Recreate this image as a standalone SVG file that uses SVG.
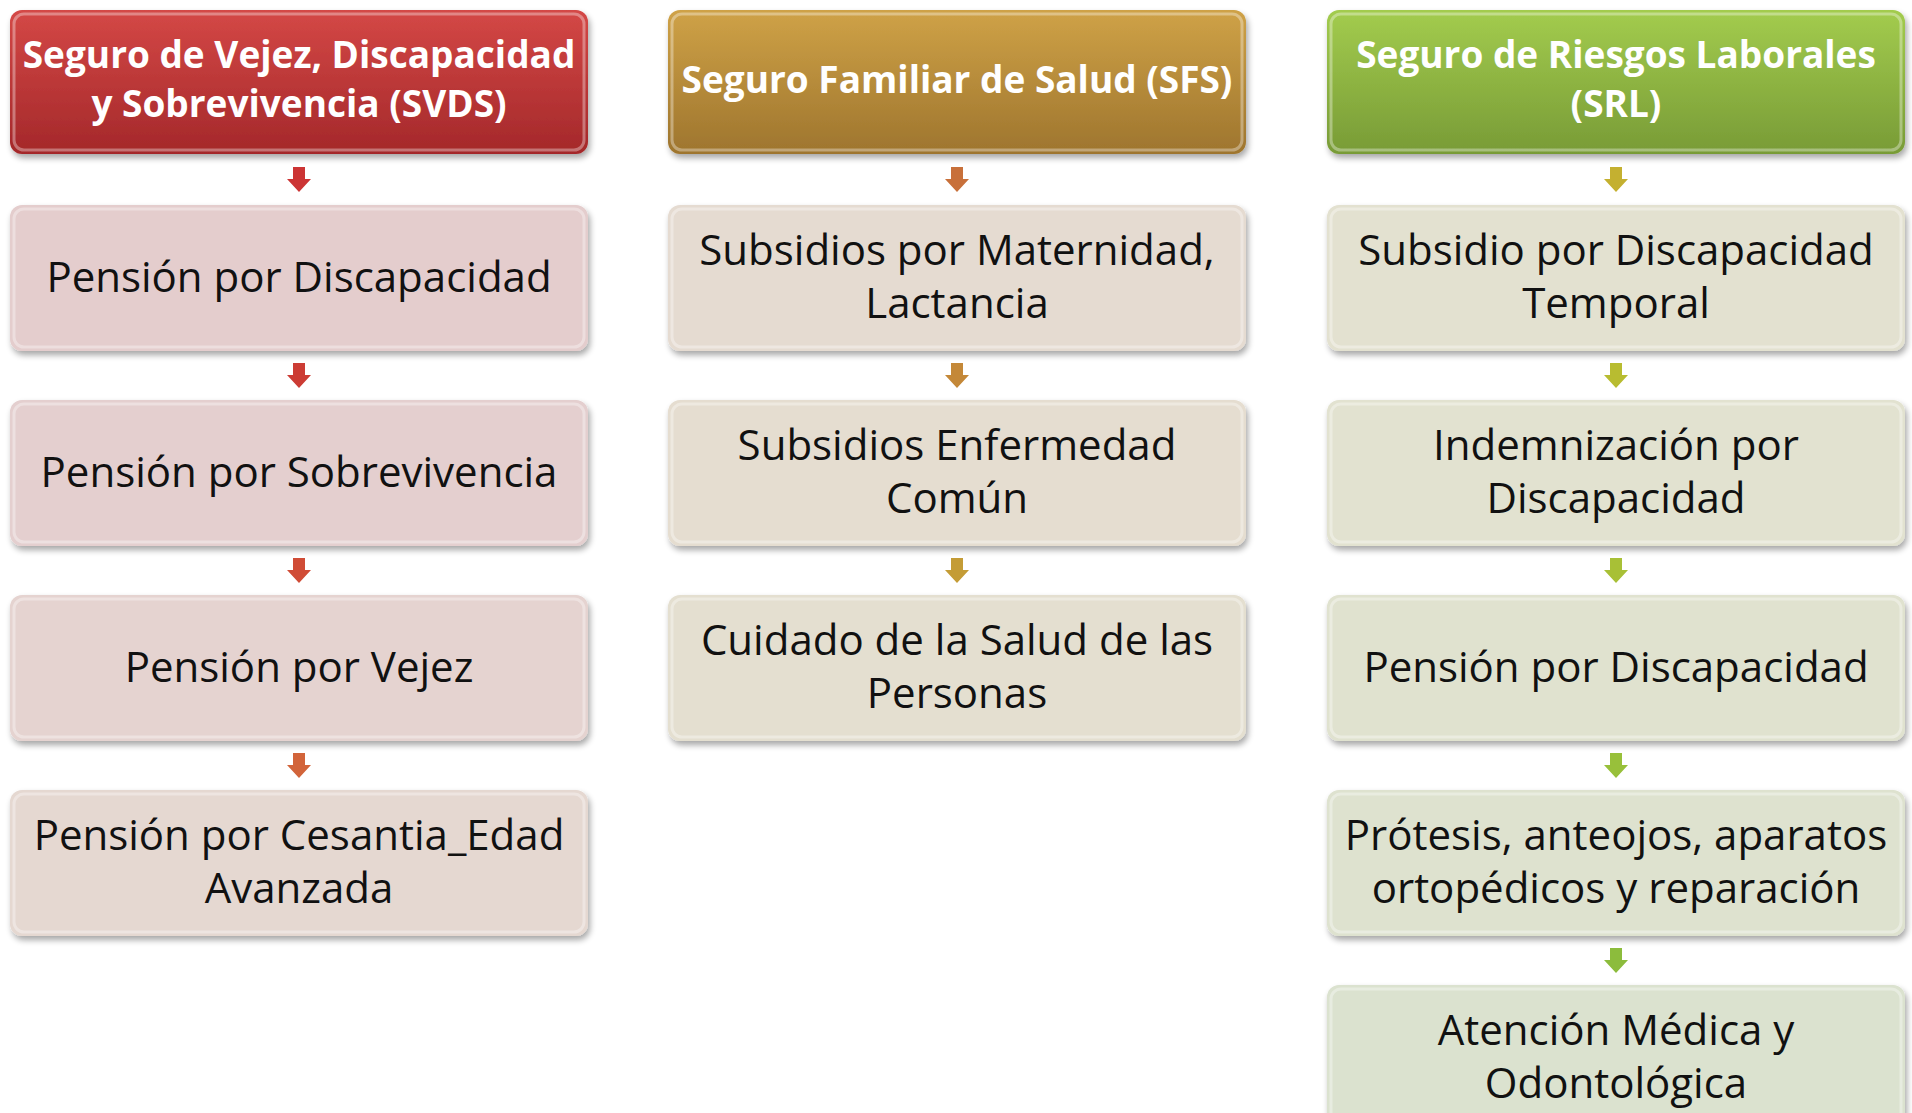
<svg xmlns="http://www.w3.org/2000/svg" width="1912" height="1113" viewBox="0 0 1912 1113">
<style>
.hd{font-family:"Open Sans","Noto Sans",sans-serif;font-weight:bold;font-size:37px;fill:#ffffff;text-anchor:middle}
.tx{font-family:"Open Sans","Noto Sans",sans-serif;font-size:42px;fill:#111111;text-anchor:middle}
.box{filter:url(#sh)}
.hl{fill:none;stroke:#ffffff;stroke-opacity:0.35;stroke-width:3}
</style>
<defs>
<filter id="sh" x="-5%" y="-10%" width="110%" height="125%">
<feGaussianBlur in="SourceAlpha" stdDeviation="3"/>
<feOffset dx="2" dy="4" result="b"/>
<feComponentTransfer><feFuncA type="linear" slope="0.35"/></feComponentTransfer>
<feMerge><feMergeNode/><feMergeNode in="SourceGraphic"/></feMerge>
</filter>
<linearGradient id="gR" x1="0" y1="0" x2="0" y2="1"><stop offset="0" stop-color="#d44846"/><stop offset="1" stop-color="#a4282a"/></linearGradient>
<linearGradient id="gY" x1="0" y1="0" x2="0" y2="1"><stop offset="0" stop-color="#cfa247"/><stop offset="1" stop-color="#9e752e"/></linearGradient>
<linearGradient id="gG" x1="0" y1="0" x2="0" y2="1"><stop offset="0" stop-color="#a3cc4e"/><stop offset="1" stop-color="#789b36"/></linearGradient>
<path id="arr" d="M-6,0 H6 V12 H12 L0,25 L-12,12 H-6 Z"/>
</defs>
<rect width="1912" height="1113" fill="#ffffff"/>

<g id="connectors">
<use href="#arr" x="299" y="167" fill="#cc3434"/>
<use href="#arr" x="299" y="363" fill="#cc3c34"/>
<use href="#arr" x="299" y="558" fill="#d04c36"/>
<use href="#arr" x="299" y="753" fill="#d2643a"/>
<use href="#arr" x="957" y="167" fill="#c8703a"/>
<use href="#arr" x="957" y="363" fill="#c48838"/>
<use href="#arr" x="957" y="558" fill="#c49c36"/>
<use href="#arr" x="1616" y="167" fill="#c4b030"/>
<use href="#arr" x="1616" y="363" fill="#b8bc30"/>
<use href="#arr" x="1616" y="558" fill="#a8c036"/>
<use href="#arr" x="1616" y="753" fill="#98c03a"/>
<use href="#arr" x="1616" y="948" fill="#8cbc3c"/>
</g>

<g id="h1"><rect class="box" x="10" y="10" width="578" height="144" rx="12" fill="url(#gR)"/><rect class="hl" x="14" y="14" width="570" height="136" rx="10"/><text class="hd" x="299" y="68">Seguro de Vejez, Discapacidad</text><text class="hd" x="299" y="117">y Sobrevivencia (SVDS)</text></g>
<g id="h2"><rect class="box" x="668" y="10" width="578" height="144" rx="12" fill="url(#gY)"/><rect class="hl" x="672" y="14" width="570" height="136" rx="10"/><text class="hd" x="957" y="93">Seguro Familiar de Salud (SFS)</text></g>
<g id="h3"><rect class="box" x="1327" y="10" width="578" height="144" rx="12" fill="url(#gG)"/><rect class="hl" x="1331" y="14" width="570" height="136" rx="10"/><text class="hd" x="1616" y="68">Seguro de Riesgos Laborales</text><text class="hd" x="1616" y="117">(SRL)</text></g>

<g id="c1r1"><rect class="box" x="10" y="205" width="578" height="146" rx="12" fill="#e4cdcd"/><rect class="hl" x="14" y="209" width="570" height="138" rx="10"/><text class="tx" x="299" y="292">Pensión por Discapacidad</text></g>
<g id="c1r2"><rect class="box" x="10" y="400" width="578" height="146" rx="12" fill="#e4cfcf"/><rect class="hl" x="14" y="404" width="570" height="138" rx="10"/><text class="tx" x="299" y="487">Pensión por Sobrevivencia</text></g>
<g id="c1r3"><rect class="box" x="10" y="595" width="578" height="146" rx="12" fill="#e5d3d0"/><rect class="hl" x="14" y="599" width="570" height="138" rx="10"/><text class="tx" x="299" y="682">Pensión por Vejez</text></g>
<g id="c1r4"><rect class="box" x="10" y="790" width="578" height="146" rx="12" fill="#e5d8d1"/><rect class="hl" x="14" y="794" width="570" height="138" rx="10"/><text class="tx" x="299" y="850">Pensión por Cesantia_Edad</text><text class="tx" x="299" y="903">Avanzada</text></g>

<g id="c2r1"><rect class="box" x="668" y="205" width="578" height="146" rx="12" fill="#e5dbd1"/><rect class="hl" x="672" y="209" width="570" height="138" rx="10"/><text class="tx" x="957" y="265">Subsidios por Maternidad,</text><text class="tx" x="957" y="318">Lactancia</text></g>
<g id="c2r2"><rect class="box" x="668" y="400" width="578" height="146" rx="12" fill="#e5ddd0"/><rect class="hl" x="672" y="404" width="570" height="138" rx="10"/><text class="tx" x="957" y="460">Subsidios Enfermedad</text><text class="tx" x="957" y="513">Común</text></g>
<g id="c2r3"><rect class="box" x="668" y="595" width="578" height="146" rx="12" fill="#e4dfd0"/><rect class="hl" x="672" y="599" width="570" height="138" rx="10"/><text class="tx" x="957" y="655">Cuidado de la Salud de las</text><text class="tx" x="957" y="708">Personas</text></g>

<g id="c3r1"><rect class="box" x="1327" y="205" width="578" height="146" rx="12" fill="#e3e1d0"/><rect class="hl" x="1331" y="209" width="570" height="138" rx="10"/><text class="tx" x="1616" y="265">Subsidio por Discapacidad</text><text class="tx" x="1616" y="318">Temporal</text></g>
<g id="c3r2"><rect class="box" x="1327" y="400" width="578" height="146" rx="12" fill="#e2e2d0"/><rect class="hl" x="1331" y="404" width="570" height="138" rx="10"/><text class="tx" x="1616" y="460">Indemnización por</text><text class="tx" x="1616" y="513">Discapacidad</text></g>
<g id="c3r3"><rect class="box" x="1327" y="595" width="578" height="146" rx="12" fill="#e0e2cf"/><rect class="hl" x="1331" y="599" width="570" height="138" rx="10"/><text class="tx" x="1616" y="682">Pensión por Discapacidad</text></g>
<g id="c3r4"><rect class="box" x="1327" y="790" width="578" height="146" rx="12" fill="#dee2cf"/><rect class="hl" x="1331" y="794" width="570" height="138" rx="10"/><text class="tx" x="1616" y="850">Prótesis, anteojos, aparatos</text><text class="tx" x="1616" y="903">ortopédicos y reparación</text></g>
<g id="c3r5"><rect class="box" x="1327" y="985" width="578" height="146" rx="12" fill="#dbe2cf"/><rect class="hl" x="1331" y="989" width="570" height="138" rx="10"/><text class="tx" x="1616" y="1045">Atención Médica y</text><text class="tx" x="1616" y="1098">Odontológica</text></g>
</svg>
